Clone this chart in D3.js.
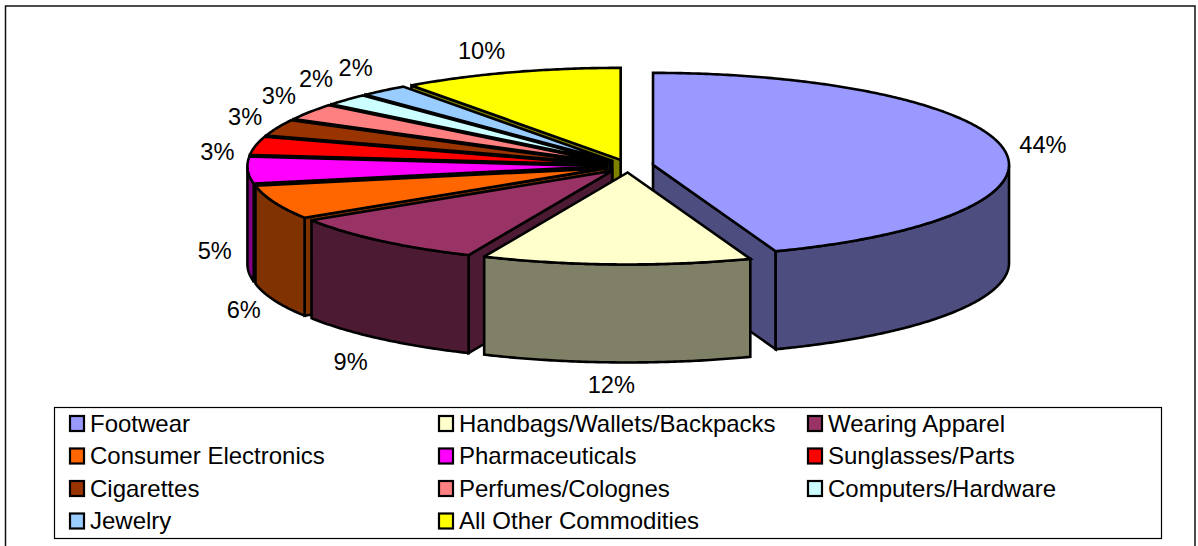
<!DOCTYPE html>
<html><head><meta charset="utf-8">
<script src="https://cdn.jsdelivr.net/npm/d3@7/dist/d3.min.js"></script>
<style>html,body{margin:0;padding:0;background:#fff;overflow:hidden}svg{display:block}text{font-family:"Liberation Sans",Arial,sans-serif;fill:#000}</style>
</head><body><svg id="c" width="1198" height="546"></svg>
<script>
const categories=["Footwear","Handbags/Wallets/Backpacks","Wearing Apparel","Consumer Electronics","Pharmaceuticals","Sunglasses/Parts","Cigarettes","Perfumes/Colognes","Computers/Hardware","Jewelry","All Other Commodities"];
const shares=[44.4,12.2,9.4,6.0,4.7,3.2,2.9,2.9,2.1,2.2,10.0];
const labels=["44%","12%","9%","6%","5%","3%","3%","3%","2%","2%","10%"];
const topColors=["#9999FF","#FFFFCC","#993366","#FF6600","#FF00FF","#FF0000","#993300","#FF8080","#CCFFFF","#99CCFF","#FFFF00"];
const wallColors=["#4D4D80","#808066","#4D1A33","#803300","#800080","#800000","#4D1A00","#804040","#668080","#4D6680","#808000"];
const labelNudge=[[4,0],[-4,2],[-6,7],[3,21],[3,71],[-3,11],[1,-3],[-1,-4],[-4,-7],[-5,-6],[-18,-1]];

const svg=d3.select("#c");
const W=1198,H=546;
const cx=628.4,cy=166,rx=356,ry=92,depth=98,explode=25;
const x=d3.scaleLinear().domain([-1,1]).range([cx-rx,cx+rx]);
const y=d3.scaleLinear().domain([-1,1]).range([cy-ry,cy+ry]);
const pie=d3.pie().sort(null).value(d=>d)(shares);
const sw=2.6;
const line=d3.line();

const slices=pie.map((p,i)=>{
  const mid=(p.startAngle+p.endAngle)/2;
  const e=explode/rx;
  return {i,a0:p.startAngle,a1:p.endAngle,mid,ox:e*Math.sin(mid),oy:-e*Math.cos(mid)};
});
const pt=(s,a,r=1,dz=0)=>[x(s.ox+r*Math.sin(a)),y(s.oy-r*Math.cos(a))+dz];
const arcPts=(s,a0,a1,dz=0)=>{
  const n=Math.max(2,Math.ceil((a1-a0)/0.01));
  return d3.range(n+1).map(k=>pt(s,a0+(a1-a0)*k/n,1,dz));
};
const g=svg.append("g").attr("stroke","#000").attr("stroke-width",sw).attr("stroke-linejoin","miter").attr("stroke-miterlimit",3);
const order=slices.slice().sort((a,b)=>Math.cos(b.mid)-Math.cos(a.mid));
order.forEach(s=>{
  const col=topColors[s.i],wall=wallColors[s.i];
  const apex=pt(s,0,0),apexB=pt(s,0,0,depth);
  // only the cut faces turned toward the viewer are painted
  const faces=[];
  if(Math.sin(s.a0)<0) faces.push(s.a0);
  if(Math.sin(s.a1)>0) faces.push(s.a1);
  faces.forEach(a=>{
    g.append("path").attr("fill",wall)
     .attr("d",line([apex,pt(s,a),pt(s,a,1,depth),apexB])+"Z");
  });
  const lo=Math.max(s.a0,Math.PI/2),hi=Math.min(s.a1,3*Math.PI/2);
  if(hi>lo){
    const top=arcPts(s,lo,hi),bot=arcPts(s,lo,hi,depth).reverse();
    g.append("path").attr("fill",wall).attr("d",line(top.concat(bot))+"Z");
  }
  g.append("path").attr("fill",col).attr("d",line([apex].concat(arcPts(s,s.a0,s.a1)))+"Z");
});

// data labels
const gx=36,gy=21;
slices.forEach(s=>{
  const sx=Math.sin(s.mid),cy2=Math.cos(s.mid);
  const ax=x(s.ox)+(rx+gx)*sx;
  const ay=y(s.oy)-(ry+gy)*cy2+(cy2<0?depth*Math.min(1,-cy2*2.2):0);
  svg.append("text").attr("x",ax+labelNudge[s.i][0]).attr("y",ay+labelNudge[s.i][1])
    .attr("text-anchor","middle").attr("dominant-baseline","central")
    .attr("font-size",23.6).text(labels[s.i]);
});

// legend
const legL=54.5,legT=407.5,legW=1107,legH=131;
svg.append("rect").attr("x",legL).attr("y",legT).attr("width",legW).attr("height",legH)
  .attr("fill","#fff").attr("stroke","#000").attr("stroke-width",1.2);
const colX=[69,438,807],rowY=[424,456.5,489,521.5];
categories.forEach((c,i)=>{
  const col=i%3,row=Math.floor(i/3);
  svg.append("rect").attr("x",colX[col]+1).attr("y",rowY[row]-8).attr("width",14).attr("height",15)
    .attr("fill",topColors[i]).attr("stroke","#000").attr("stroke-width",2.2);
  svg.append("text").attr("x",colX[col]+21).attr("y",rowY[row]-0.6).attr("dominant-baseline","central")
    .attr("font-size",24).text(c);
});

// chart border
svg.append("path").attr("fill","none").attr("stroke","#111").attr("stroke-width",1.5)
  .attr("d",line([[5.5,H],[5.5,6],[1195,6],[1195,H]]));
</script></body></html>
